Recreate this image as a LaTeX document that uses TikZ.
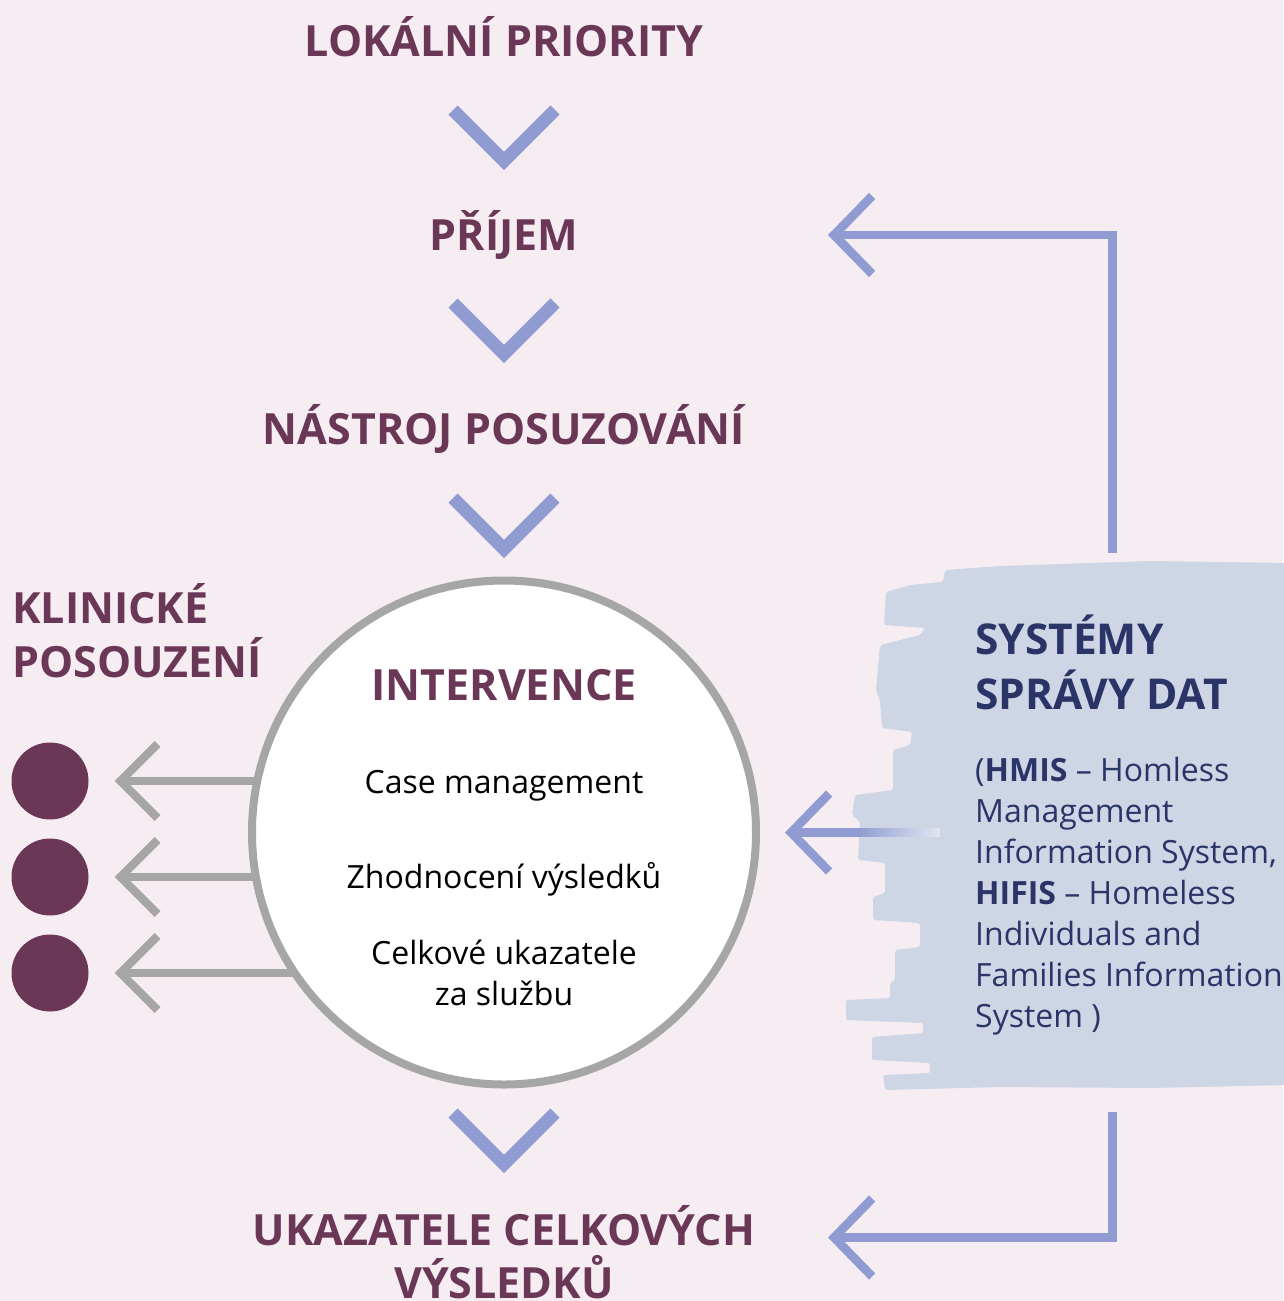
\documentclass[tikz,border=0pt]{standalone}
\usepackage{fontspec}
\setmainfont{Open Sans}
\usetikzlibrary{arrows.meta,positioning,calc}

\definecolor{bgpink}{HTML}{F6EDF3}
\definecolor{plum}{HTML}{6B3757}
\definecolor{lavender}{HTML}{8F9BD1}
\definecolor{greyline}{HTML}{A6A6A6}
\definecolor{brushblue}{HTML}{CED6E5}
\definecolor{navy}{HTML}{2B3467}

\pgfdeclarelayer{bg}
\pgfsetlayers{bg,main}

\tikzset{
    chevron/.pic={\draw[lavender, line width=13pt] (-51,-51) -- (0,0) -- (51,-51);}
}

\begin{document}
\begin{tikzpicture}[
        x=1pt, y=-1pt,
        title/.style={font=\fontsize{43}{53}\selectfont\bfseries, text=plum, inner sep=0pt, anchor=base, align=center},
        subtitle/.style={font=\fontsize{43}{54}\selectfont\bfseries, text=plum, inner sep=0pt, align=left},
        item/.style={font=\fontsize{32}{41}\selectfont, text=black, inner sep=0pt, anchor=base, align=center},
        datatitle/.style={font=\fontsize{42.5}{55}\selectfont\bfseries, text=navy, inner sep=0pt, anchor=base west, align=left},
        datatext/.style={font=\fontsize{32}{41}\selectfont, text=navy, inner sep=0pt, anchor=base west, align=left},
        dot/.style={circle, fill=plum, minimum size=77pt, inner sep=0pt},
        hub/.style={circle, draw=greyline, line width=8pt, fill=white, minimum size=504pt, inner sep=0pt},
        greyarrow/.style={draw=greyline, line width=8.3pt, -{Straight Barb[length=37pt, width=74pt]}},
        bluearrow/.style={draw=lavender, line width=8.8pt, -{Straight Barb[length=38pt, width=78pt]}}
    ]
        \useasboundingbox (0,0) rectangle (1283,1301);
        \begin{pgfonlayer}{bg}
            \fill[bgpink] (0,0) rectangle (1283,1301);
            % brush stroke behind the data systems
            \fill[brushblue, rounded corners=2pt] (1290,563) -- (1150,561) -- (1000,566) -- (945,570) -- (943,582)
                -- (910,585) -- (886,592) -- (884,625) -- (925,628) -- (920,635) -- (880,645) -- (876,690)
                -- (880,700) -- (882,728) -- (912,732) -- (910,745) -- (893,750) -- (893,790) -- (855,795)
                -- (852,815) -- (860,822) -- (858,860) -- (885,863) -- (885,893) -- (873,897) -- (873,920)
                -- (920,923) -- (920,947) -- (895,950) -- (895,980) -- (890,983) -- (890,998) -- (846,1000)
                -- (846,1020) -- (923,1023) -- (923,1033) -- (872,1037) -- (872,1060) -- (930,1063)
                -- (930,1073) -- (883,1075) -- (885,1090) -- (1000,1087) -- (1150,1088) -- (1290,1085) -- cycle;
        \end{pgfonlayer}

        % Steps
        \node (local) [title] at (504,56) {LOKÁLNÍ PRIORITY};
        \node (intake) [title] at (504,250) {PŘÍJEM};
        \node (tool) [title] at (504,444) {NÁSTROJ POSUZOVÁNÍ};
        \node (outcome) [title] at (504,1298) {UKAZATELE CELKOVÝCH\\VÝSLEDKŮ};
        \pic at (504,161) {chevron};
        \pic at (504,354) {chevron};
        \pic at (504,549) {chevron};
        \pic at (504,1164) {chevron};

        % Intervention circle
        \node (hub) [hub] at (504,832.5) {};
        \node (interv) [title] at (504,700) {INTERVENCE};
        \node (case) [item] at (504,793) {Case management};
        \node (eval) [item] at (504,888) {Zhodnocení výsledků};
        \node (totals) [item] at (504,1005) {Celkové ukazatele\\za službu};

        % Clinical assessment
        \node (clinic) [subtitle, anchor=base west] at (12,677) {KLINICKÉ\\POSOUZENÍ};
        \node (dot1) [dot] at (50,781) {};
        \node (dot2) [dot] at (50,877) {};
        \node (dot3) [dot] at (50,973) {};
        \begin{pgfonlayer}{bg}
            \draw[greyarrow, shorten >=26pt] (dot1 -| hub.center) -- (dot1);
            \draw[greyarrow, shorten >=26pt] (dot2 -| hub.center) -- (dot2);
            \draw[greyarrow, shorten >=26pt] (dot3 -| hub.center) -- (dot3);
        \end{pgfonlayer}

        % Data systems
        \node (data) [datatitle] at (975,709.5) {SYSTÉMY\\SPRÁVY DAT};
        \node (datanote) [datatext] at (975,1027.5) {(\textbf{HMIS} – Homless\\Management\\Information System,\\\textbf{HIFIS} – Homeless\\Individuals and\\Families Information\\System )};
        \coordinate (datatop) at (1112.5,553);
        \coordinate (databot) at (1112.5,1112);
        \coordinate (dataleft) at (858,832.5);
        \coordinate (intakein) at (828,235);
        \coordinate (outcomein) at (828,1237.5);

        % Feedback arrows
        \shade[left color=lavender, right color=brushblue!60!white] (857,828.1) rectangle (940,836.9);
        \draw[bluearrow] (datatop) |- (intakein);
        \draw[bluearrow] (databot) |- (outcomein);
        \draw[bluearrow, shorten >=25pt] (dataleft) -- (hub);
\end{tikzpicture}
\end{document}
